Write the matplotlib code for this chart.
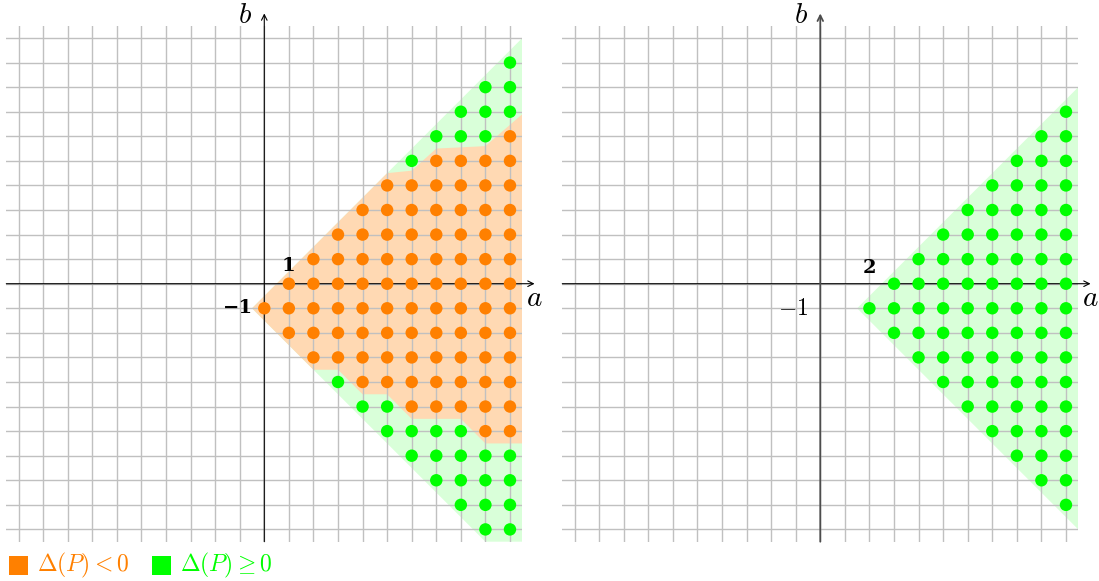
import matplotlib
matplotlib.use("Agg")
import matplotlib.pyplot as plt
from matplotlib.patches import Polygon, Rectangle
import numpy as np

plt.rcParams['mathtext.fontset'] = 'cm'

ORANGE = '#ff8000'
GREEN = '#00ff00'
ORANGE_FILL = '#ffd9b3'
GREEN_FILL = '#d9ffd9'

# left panel: rows of lattice points (b value, first a, how many green at the start)
left_b = [9, 8, 7, 6, 5, 4, 3, 2, 1, 0, -1, -2, -3, -4, -5, -6, -7, -8, -9, -10]
left_first_a = [10, 9, 8, 7, 6, 5, 4, 3, 2, 1, 0, 1, 2, 3, 4, 5, 6, 7, 8, 9]
left_n_green = [1, 2, 3, 3, 1, 0, 0, 0, 0, 0, 0, 0, 0, 1, 2, 4, 5, 4, 3, 2]
last_a = 10

# right panel: all points green
right_b = [7, 6, 5, 4, 3, 2, 1, 0, -1, -2, -3, -4, -5, -6, -7, -8, -9]
right_first_a = [10, 9, 8, 7, 6, 5, 4, 3, 2, 3, 4, 5, 6, 7, 8, 9, 10]

# shaded regions
left_wedge = [(-0.5, -1), (10.5, 10), (10.5, -10.5), (9, -10.5)]
left_orange_region = [(-0.5, -1), (5, 4.5), (6, 4.6), (7, 5.5), (9, 5.6), (10.5, 6.9),
                      (10.5, -6.5), (9, -6.5), (8, -5.5), (6, -5.5), (5, -4.5),
                      (4, -4.5), (3, -3.5), (2, -3.5)]
right_wedge = [(1.5, -1), (10.5, 8), (10.5, -10)]

W, H = 1099, 581
fig = plt.figure(figsize=(W / 100, H / 100), dpi=100)

unit = 24.57
lo, hi = -10.5, 10.5
bold_num = dict(family='DejaVu Serif', weight='bold', fontsize=14)


def make_axes(x_left_px):
    ax = fig.add_axes([x_left_px / W, (H - 541.7) / H, 21 * unit / W, 21 * unit / H])
    ax.set_xlim(lo, hi)
    ax.set_ylim(lo, hi)
    ax.axis('off')
    for k in range(-10, 11):
        ax.plot([k, k], [lo, hi], color='#c0c0c0', lw=1.0, zorder=1)
        ax.plot([lo, hi], [k, k], color='#c0c0c0', lw=1.0, zorder=1)
    return ax


def draw_axes_lines(ax, ycolor='k', ylw=0.8):
    ax.annotate('', xy=(11, 0), xytext=(lo, 0), annotation_clip=False,
                arrowprops=dict(arrowstyle='->', lw=0.8, color='k', shrinkA=0, shrinkB=0), zorder=2)
    ax.annotate('', xy=(0, 11), xytext=(0, lo), annotation_clip=False,
                arrowprops=dict(arrowstyle='->', lw=ylw, color=ycolor, shrinkA=0, shrinkB=0), zorder=2)
    ax.text(-0.5, 10.95, r'$b$', fontsize=21, ha='right', va='center', clip_on=False)
    ax.text(11.0, -0.6, r'$a$', fontsize=21, ha='center', va='center', clip_on=False)


# left panel
axL = make_axes(6.3)
axL.add_patch(Polygon(left_wedge, closed=True, facecolor=GREEN_FILL, edgecolor='none', zorder=0))
axL.add_patch(Polygon(left_orange_region, closed=True, facecolor=ORANGE_FILL, edgecolor='none', zorder=0))
draw_axes_lines(axL)

ga, gb, oa, ob = [], [], [], []
for b, a0, ng in zip(left_b, left_first_a, left_n_green):
    for a in range(a0, last_a + 1):
        if a < a0 + ng:
            ga.append(a); gb.append(b)
        else:
            oa.append(a); ob.append(b)
axL.scatter(oa, ob, s=80, color=ORANGE, edgecolors='none', zorder=3, clip_on=False)
axL.scatter(ga, gb, s=80, color=GREEN, edgecolors='none', zorder=3, clip_on=False)
axL.text(1.0, 0.72, '1', ha='center', va='center', **bold_num)
axL.text(-0.45, -1.0, '\u22121', ha='right', va='center', **bold_num)

# right panel
axR = make_axes(562.3)
axR.add_patch(Polygon(right_wedge, closed=True, facecolor=GREEN_FILL, edgecolor='none', zorder=0))
draw_axes_lines(axR, ycolor='#4d4d4d', ylw=1.3)
ra, rb = [], []
for b, a0 in zip(right_b, right_first_a):
    for a in range(a0, last_a + 1):
        ra.append(a); rb.append(b)
axR.scatter(ra, rb, s=80, color=GREEN, edgecolors='none', zorder=3, clip_on=False)
axR.text(2.0, 0.64, '2', ha='center', va='center', **bold_num)
axR.text(-0.5, -1.0, r'$-1$', fontsize=17, ha='right', va='center')

# legend
fig.patches.append(Rectangle((9 / W, (H - 575) / H), 19 / W, 19 / H, transform=fig.transFigure,
                             facecolor=ORANGE, edgecolor='none'))
fig.text(37 / W, (H - 565) / H, r'$\Delta(P) < 0$', color=ORANGE, fontsize=17, va='center')
fig.patches.append(Rectangle((152 / W, (H - 575) / H), 19 / W, 19 / H, transform=fig.transFigure,
                             facecolor=GREEN, edgecolor='none'))
fig.text(180 / W, (H - 565) / H, r'$\Delta(P) \geq 0$', color=GREEN, fontsize=17, va='center')

fig.savefig('out.png', dpi=100)
